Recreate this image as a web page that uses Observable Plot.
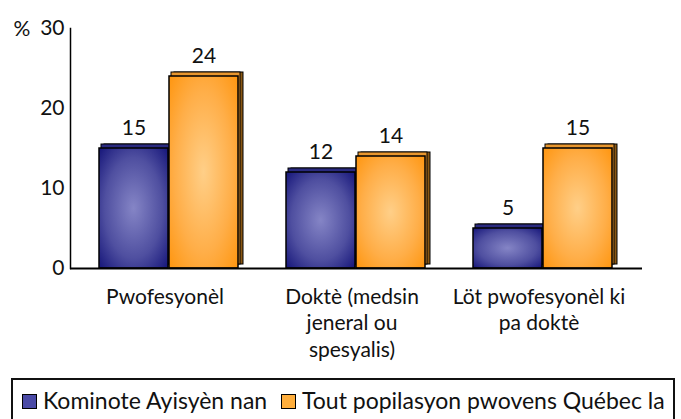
<!DOCTYPE html>
<html><head><meta charset="utf-8">
<script src="https://cdn.jsdelivr.net/npm/d3@7"></script>
<script src="https://cdn.jsdelivr.net/npm/@observablehq/plot@0.6"></script>
<style>
body{margin:0;background:#fff;font-family:Lato,sans-serif;}
#wrap{position:relative;width:681px;height:419px;overflow:hidden;}
#legend{position:absolute;left:11px;top:378px;width:664px;height:60px;border:2px solid #111;box-sizing:border-box;font-size:23px;color:#111;}
.sw{position:absolute;width:13px;height:13px;border:1.5px solid #000;top:14px;}
.lt{position:absolute;top:7px;white-space:nowrap;line-height:26px;}
</style></head>
<body>
<svg width="0" height="0" style="position:absolute">
<defs>
<radialGradient id="gBlue" cx="50%" cy="50%" r="70%">
<stop offset="0%" stop-color="#8585c6"/><stop offset="60%" stop-color="#4f4fa0"/><stop offset="100%" stop-color="#16167a"/>
</radialGradient>
<radialGradient id="gOrange" cx="50%" cy="50%" r="70%">
<stop offset="0%" stop-color="#ffcf88"/><stop offset="60%" stop-color="#ffae48"/><stop offset="100%" stop-color="#ff9610"/>
</radialGradient>
</defs>
</svg>
<div id="wrap"></div>
<script>
const categories = ["Pwofesyonèl", "Doktè (medsin\njeneral ou\nspesyalis)", "Löt pwofesyonèl ki\npa doktè"];
const seriesNames = ["Kominote Ayisyèn nan", "Tout popilasyon pwovens Québec la"];
const haitian = [15, 12, 5];
const quebec = [24, 14, 15];
const yTicks = [0, 10, 20, 30];

const blue = categories.map((c, i) => ({c, v: haitian[i]}));
const orange = categories.map((c, i) => ({c, v: quebec[i]}));

function layers(data, side, top, front, inL, inR) {
  return [
    Plot.barY(data, {x: "c", y: "v", insetLeft: inL, insetRight: inR, dx: 5, dy: -4, fill: side, stroke: "#000", strokeWidth: 1}),
    Plot.barY(data, {x: "c", y: "v", insetLeft: inL, insetRight: inR, dx: 2, dy: -4, fill: top, stroke: "#000", strokeWidth: 1}),
    Plot.barY(data, {x: "c", y: "v", insetLeft: inL, insetRight: inR, fill: front, stroke: "#000", strokeWidth: 1.5})
  ];
}

const chart = Plot.plot({
  width: 681,
  height: 376,
  marginLeft: 70,
  marginRight: 39,
  marginTop: 28,
  marginBottom: 108,
  style: {fontFamily: "Lato, sans-serif", color: "#111", background: "transparent"},
  x: {domain: categories, paddingInner: 0.255, paddingOuter: 0.149},
  y: {domain: [0, 30]},
  marks: [
    ...layers(blue, "#14145a", "#2a2a80", "url(#gBlue)", 0, 70),
    ...layers(orange, "#8a5814", "#e8962e", "url(#gOrange)", 70, 0),
    Plot.frame({anchor: "left", stroke: "#000", strokeWidth: 1.5}),
    Plot.ruleY([0], {stroke: "#000", strokeWidth: 2}),
    Plot.axisY(yTicks, {tickSize: 0, tickPadding: 6, fontSize: 21, label: null}),
    Plot.axisX({tickSize: 0, tickPadding: 17, fontSize: 21, lineHeight: 1.25, dx: -4, label: null}),
    Plot.text(blue, {x: "c", y: "v", text: d => String(d.v), dx: -35, dy: -14, lineAnchor: "bottom", fontSize: 21}),
    Plot.text(orange, {x: "c", y: "v", text: d => String(d.v), dx: 35, dy: -14, lineAnchor: "bottom", fontSize: 21}),
    Plot.text(["%"], {text: d => d, frameAnchor: "top-left", dx: -57, dy: -7, fontSize: 21})
  ]
});
const wrap = document.getElementById("wrap");
wrap.appendChild(chart);

const legend = document.createElement("div");
legend.id = "legend";
const swatchColors = ["#4a4aa6", "#ffae3c"];
const swLeft = [9, 268];
const txLeft = [30, 289];
seriesNames.forEach((name, i) => {
  const sw = document.createElement("span");
  sw.className = "sw";
  sw.style.left = swLeft[i] + "px";
  sw.style.background = swatchColors[i];
  legend.appendChild(sw);
  const t = document.createElement("span");
  t.className = "lt";
  t.style.left = txLeft[i] + "px";
  t.textContent = name;
  legend.appendChild(t);
});
wrap.appendChild(legend);
</script>
</body></html>
